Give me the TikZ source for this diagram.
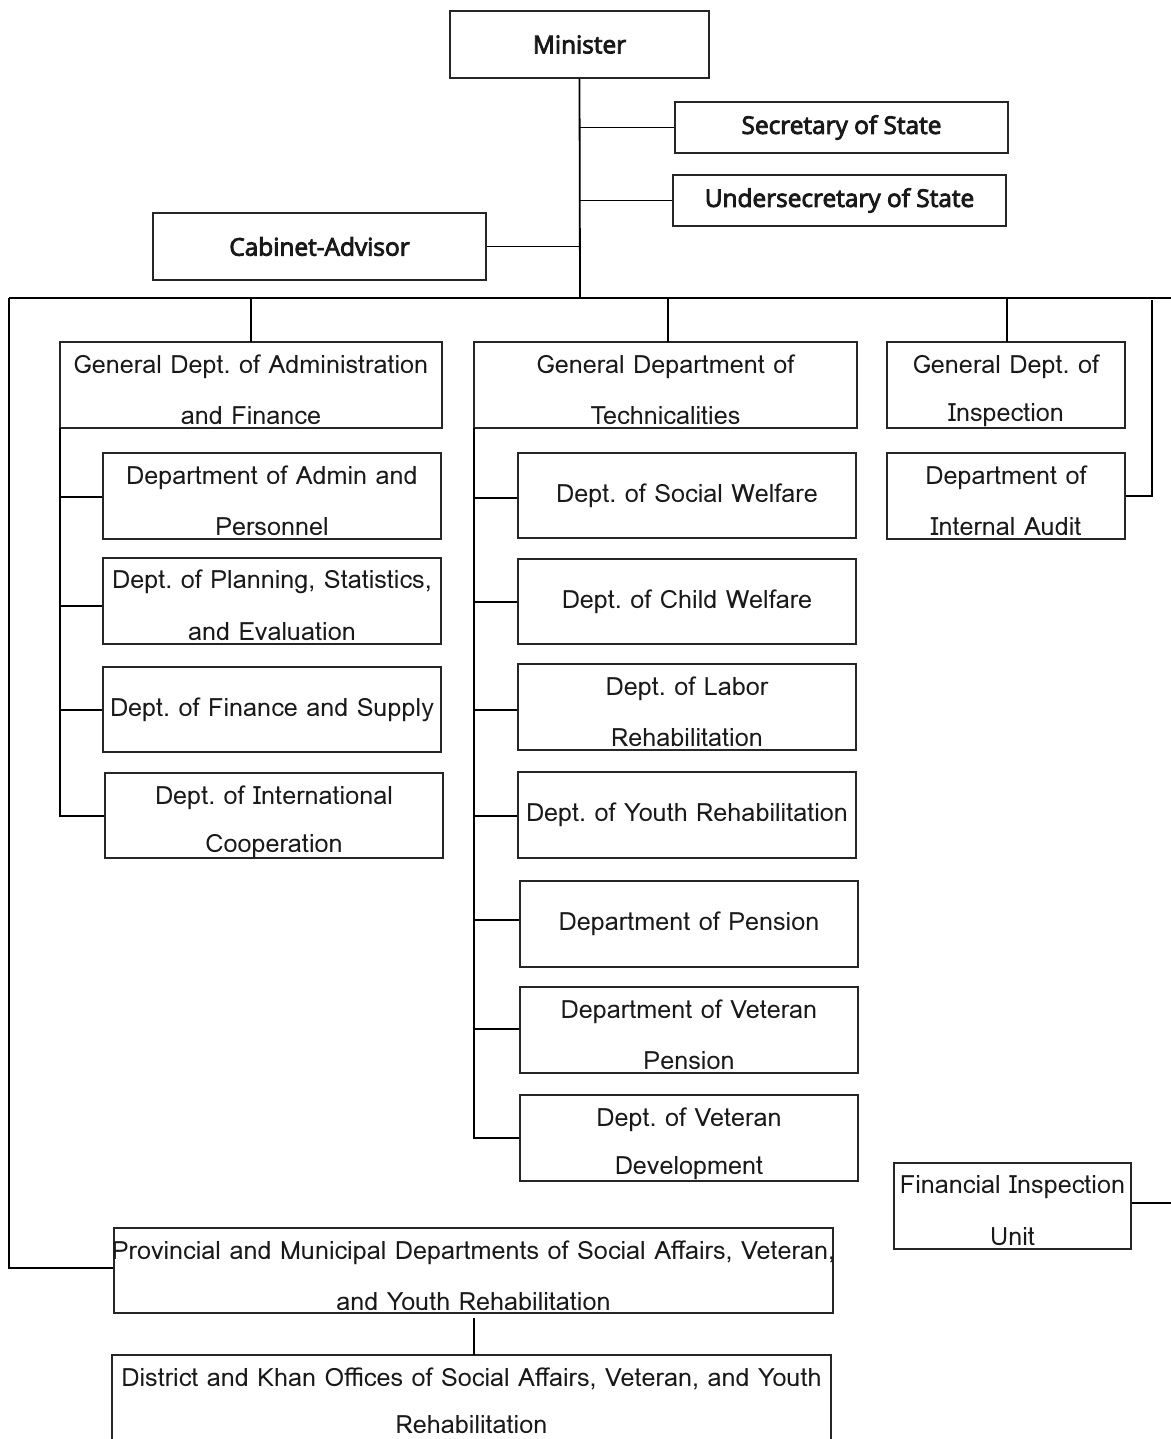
\documentclass[tikz,border=0pt]{standalone}
\usepackage{fontspec}
\setmainfont{Loma}
\newfontfamily\headfont[FakeBold=3.5]{Open Sans}
\usetikzlibrary{fit,calc}
\frenchspacing
\tikzset{
  box/.style={draw=black!85, line width=0.7pt, inner sep=0pt, fill=white},
  txt/.style={inner sep=0pt, font=\fontsize{12.6}{15}\selectfont, text=black!90},
  head/.style={inner sep=0pt, font=\headfont\fontsize{12.2}{14}\selectfont, text=black!90},
  link/.style={draw=black, line width=0.9pt},
}
% a box from its corner pixels
\newcommand{\orgbox}[5]{\node[box, fit={(#2,#3) (#4,#5)}] (#1) {};}
% one centred line
\newcommand{\oneline}[2]{\node[txt] at (#1.center) {#2};}
% two lines, the second sitting on the lower edge
\newcommand{\twoline}[3]{%
  \node[txt] at ($(#1.north)+(0,25)$) {#2};
  \node[txt] at ($(#1.north)+(0,74)$) {#3};}
\begin{document}
\begin{tikzpicture}[x=0.5pt, y=-0.5pt]
\useasboundingbox (0,0) rectangle (1171,1439);

% top level
\orgbox{min}{450}{11}{709}{78}
\node[head] at (min.center) {Minister};
\orgbox{sec}{675}{102}{1008}{153}
\node[head] at (sec.center) {Secretary of State};
\orgbox{usec}{673}{175}{1006}{226}
\node[head] at (usec.center) {Undersecretary of State};
\orgbox{cab}{153}{213}{486}{280}
\node[head] at (cab.center) {Cabinet-Advisor};

\coordinate (spine) at (580,298);
\draw[link] (min.south) -- (spine);
\draw[link] (sec.west) -- (sec.west -| min.south);
\draw[link] (usec.west) -- (usec.west -| min.south);
\draw[link] (cab.east) -- (cab.east -| min.south);

% main bar
\coordinate (barL) at (9,298);
\coordinate (barR) at (1171,298);
\draw[link] (barL) -- (barR);

% general departments
\orgbox{gdaf}{60}{342}{442}{428}
\twoline{gdaf}{General Dept. of Administration}{and Finance}
\orgbox{gdt}{474}{342}{857}{428}
\twoline{gdt}{General Department of}{Technicalities}
\orgbox{gdi}{887}{342}{1125}{428}
\twoline{gdi}{General Dept. of}{Inspection}
\orgbox{ia}{887}{453}{1125}{539}
\twoline{ia}{Department of}{Internal Audit}

\draw[link] (251,298) -- (251,342);
\draw[link] (668,298) -- (668,342);
\draw[link] (1007,298) -- (1007,342);
\coordinate (iaR) at (1152,300);
\draw[link] (iaR) -- (iaR |- ia.east) -- (ia.east);

% administration and finance
\orgbox{adm}{103}{453}{441}{539}
\twoline{adm}{Department of Admin and}{Personnel}
\orgbox{pln}{103}{558}{441}{644}
\twoline{pln}{Dept. of Planning, Statistics,}{and Evaluation}
\orgbox{fin}{103}{667}{441}{752}
\oneline{fin}{Dept. of Finance and Supply}
\orgbox{int}{105}{773}{443}{858}
\twoline{int}{Dept. of International}{Cooperation}

\coordinate (aT) at (60,428);
\coordinate (aB) at (60,816);
\draw[link] (aT) -- (aB) -- (aB -| int.west);
\foreach \n/\y in {adm/497, pln/606, fin/710}
  \draw[link] (60,\y) -- (\n.west |- 60,\y);

% technicalities
\orgbox{soc}{518}{453}{856}{538}
\oneline{soc}{Dept. of Social Welfare}
\orgbox{chi}{518}{559}{856}{644}
\oneline{chi}{Dept. of Child Welfare}
\orgbox{lab}{518}{664}{856}{750}
\twoline{lab}{Dept. of Labor}{Rehabilitation}
\orgbox{you}{518}{772}{856}{858}
\oneline{you}{Dept. of Youth Rehabilitation}
\orgbox{pen}{520}{881}{858}{967}
\oneline{pen}{Department of Pension}
\orgbox{vpen}{520}{987}{858}{1073}
\twoline{vpen}{Department of Veteran}{Pension}
\orgbox{vdev}{520}{1095}{858}{1181}
\twoline{vdev}{Dept. of Veteran}{Development}

\coordinate (tT) at (474,428);
\coordinate (tB) at (474,1138);
\draw[link] (tT) -- (tB) -- (tB -| vdev.west);
\foreach \n/\y in {soc/498, chi/602, lab/710, you/816, pen/920, vpen/1029}
  \draw[link] (474,\y) -- (\n.west |- 474,\y);

% financial inspection unit
\orgbox{fiu}{894}{1163}{1131}{1249}
\twoline{fiu}{Financial Inspection}{Unit}
\coordinate (fiuR) at (1171,1203);
\draw[link] (fiu.east |- fiuR) -- (fiuR);

% provincial and district levels
\orgbox{prov}{114}{1228}{833}{1313}
\twoline{prov}{Provincial and Municipal Departments of Social Affairs, Veteran,}{and Youth Rehabilitation}
\orgbox{dist}{112}{1355}{831}{1445}
\node[txt] at ($(dist.north)+(0,25)$) {District and Khan Offices of Social Affairs, Veteran, and Youth};
\node[txt] at ($(dist.north)+(0,70)$) {Rehabilitation};

\coordinate (pL) at (9,1268);
\draw[link] (barL) -- (pL) -- (pL -| prov.west);
\draw[link] (474,1318) -- (474,1355);
\end{tikzpicture}
\end{document}
